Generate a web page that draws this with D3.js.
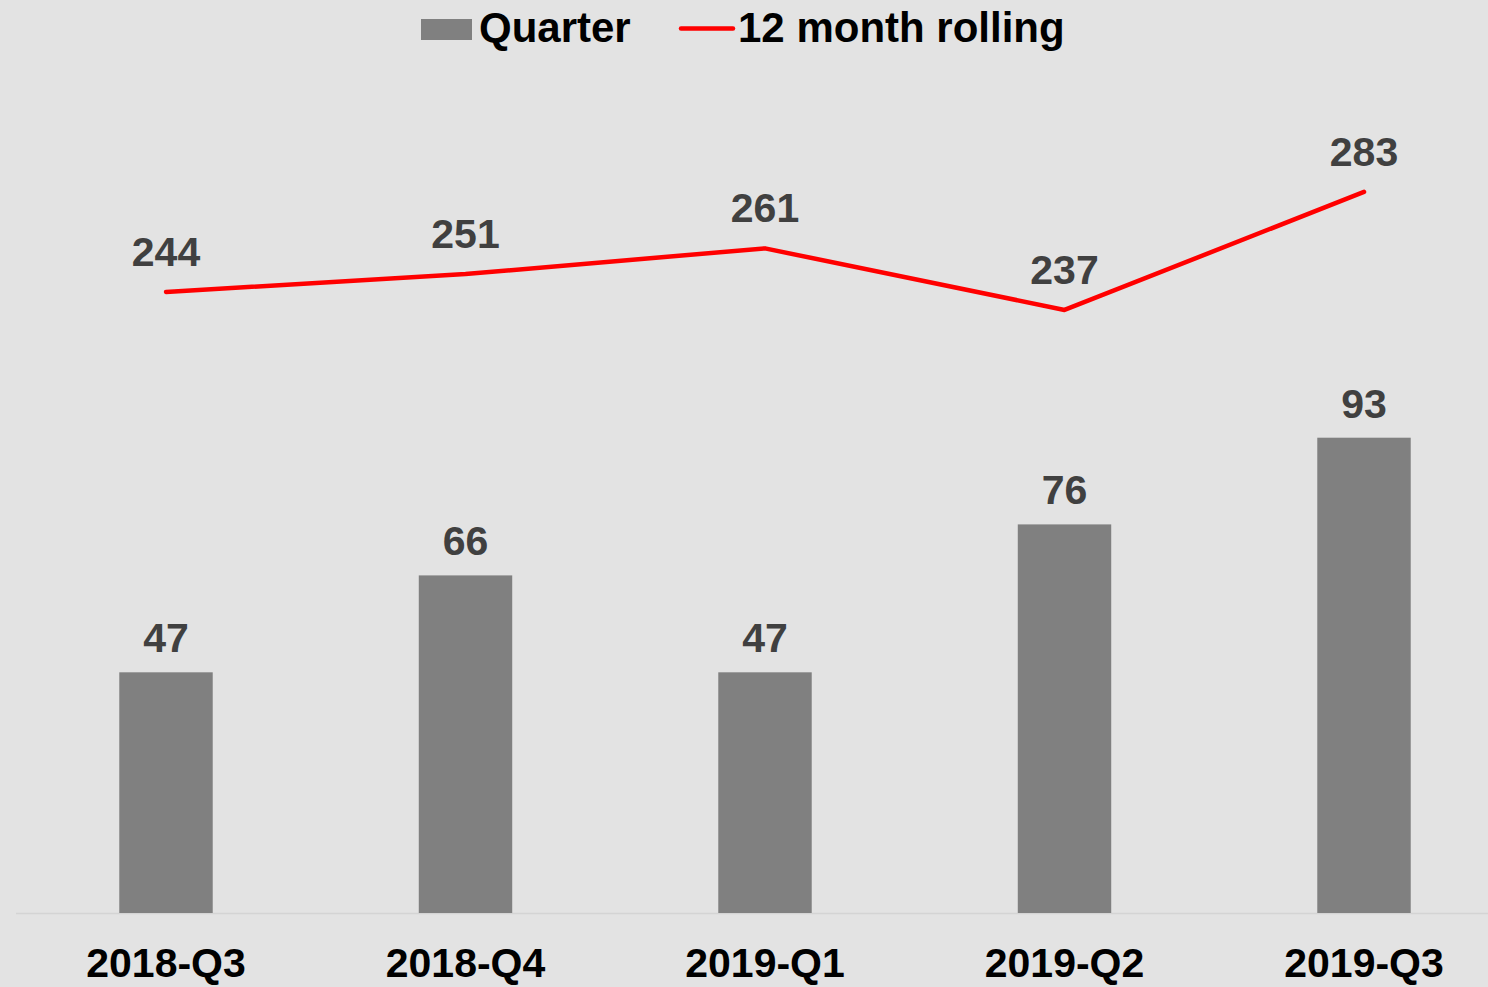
<!DOCTYPE html>
<html>
<head>
<meta charset="utf-8">
<script src="https://cdn.jsdelivr.net/npm/d3@7"></script>
<style>
  html, body { margin: 0; padding: 0; background: #e3e3e3; overflow: hidden; }
  svg text { font-family: "Liberation Sans", Arial, sans-serif; font-weight: bold; }
</style>
</head>
<body>
<div id="chart"></div>
<script>
// data
const quarters = ["2018-Q3", "2018-Q4", "2019-Q1", "2019-Q2", "2019-Q3"];
const quarterValues = [47, 66, 47, 76, 93];
const rollingValues = [244, 251, 261, 237, 283];
const legendLabels = ["Quarter", "12 month rolling"];

const width = 1488, height = 987;

const svg = d3
  .select("#chart")
  .append("svg")
  .attr("width", width)
  .attr("height", height);

svg.append("rect")
  .attr("width", width)
  .attr("height", height)
  .attr("fill", "#e3e3e3");

// x: one band per quarter, bars take ~31% of the step
var x = d3
  .scaleBand()
  .domain(quarters)
  .range([16.25, 1513.75])
  .paddingInner(0.688)
  .paddingOuter(0.344);

// primary axis for bars, secondary (hidden) for the rolling line
var y = d3.scaleLinear().domain([0, 160]).range([912, 96]);
var y2 = d3.scaleLinear().domain([0, 320]).range([918, 97]);

// baseline
svg.append("line")
  .attr("x1", 16)
  .attr("x2", width)
  .attr("y1", 913.5)
  .attr("y2", 913.5)
  .attr("stroke", "#d4d4d4")
  .attr("stroke-width", 1.5);

// bars
svg.selectAll(".bar")
  .data(quarterValues)
  .enter()
  .append("rect")
  .attr("class", "bar")
  .attr("x", (d, i) => x(quarters[i]))
  .attr("y", (d) => y(d))
  .attr("width", x.bandwidth())
  .attr("height", (d) => y(0) - y(d) + 1)
  .attr("fill", "#808080");

svg.selectAll(".bar-label")
  .data(quarterValues)
  .enter()
  .append("text")
  .attr("class", "bar-label")
  .attr("x", (d, i) => x(quarters[i]) + x.bandwidth() / 2)
  .attr("y", (d) => y(d) - 20)
  .attr("text-anchor", "middle")
  .attr("font-size", 41)
  .attr("fill", "#404040")
  .text((d) => d);

// rolling line
var line = d3
  .line()
  .x((d, i) => x(quarters[i]) + x.bandwidth() / 2)
  .y((d) => y2(d));

svg.append("path")
  .datum(rollingValues)
  .attr("d", line)
  .attr("fill", "none")
  .attr("stroke", "#ff0000")
  .attr("stroke-width", 4.5)
  .attr("stroke-linecap", "round")
  .attr("stroke-linejoin", "round");

svg.selectAll(".line-label")
  .data(rollingValues)
  .enter()
  .append("text")
  .attr("class", "line-label")
  .attr("x", (d, i) => x(quarters[i]) + x.bandwidth() / 2)
  .attr("y", (d) => y2(d) - 26)
  .attr("text-anchor", "middle")
  .attr("font-size", 41)
  .attr("fill", "#404040")
  .text((d) => d);

// category labels
svg.selectAll(".cat-label")
  .data(quarters)
  .enter()
  .append("text")
  .attr("class", "cat-label")
  .attr("x", (d) => x(d) + x.bandwidth() / 2)
  .attr("y", 977)
  .attr("text-anchor", "middle")
  .attr("font-size", 41)
  .attr("fill", "#000")
  .text((d) => d);

// legend
const legend = svg.append("g");
legend.append("rect")
  .attr("x", 421)
  .attr("y", 19)
  .attr("width", 51)
  .attr("height", 21)
  .attr("fill", "#808080");
legend.append("text")
  .attr("x", 479)
  .attr("y", 42)
  .attr("font-size", 42)
  .attr("fill", "#000")
  .text(legendLabels[0]);
legend.append("line")
  .attr("x1", 681)
  .attr("x2", 733)
  .attr("y1", 28.5)
  .attr("y2", 28.5)
  .attr("stroke", "#ff0000")
  .attr("stroke-width", 4.5)
  .attr("stroke-linecap", "round");
legend.append("text")
  .attr("x", 738)
  .attr("y", 42)
  .attr("font-size", 42)
  .attr("fill", "#000")
  .text(legendLabels[1]);
</script>
</body>
</html>
